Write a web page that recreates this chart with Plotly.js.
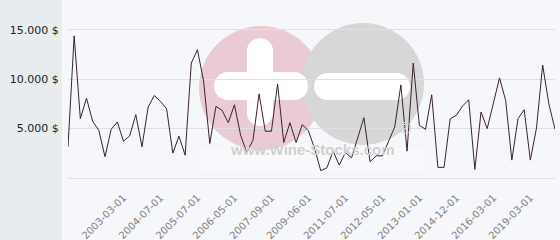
<!DOCTYPE html>
<html>
<head>
<meta charset="utf-8">
<script src="https://cdn.plot.ly/plotly-3.0.1.min.js"></script>
<style>html,body{margin:0;padding:0;background:#e8ecef;}#chart{width:560px;height:240px;}</style>
</head>
<body>
<div id="chart"></div>
<script>
// Price series (USD), one value per observation, in order
const prices = [
  3154, 14396, 6007, 8087, 5738, 4832, 2148, 4933, 5671, 3725,
  4262, 6409, 3154, 7181, 8356, 7752, 7013, 2517, 4228, 2315,
  11644, 12987, 9800, 3490, 7248, 6846, 5604, 7416, 4329, 2584,
  3826, 8523, 4732, 4732, 9530, 3591, 5604, 3591, 5403, 4780,
  2987, 738, 1040, 2718, 1309, 2584, 2047, 4161, 6107, 1644,
  2248, 2248, 3658, 5168, 9430, 2718, 11644, 5336, 4933, 8423,
  1074, 1074, 6007, 6342, 7282, 7919, 872, 6678, 5000, 7617,
  10134, 7852, 1812, 6007, 6913, 1812, 5067, 11443, 7517, 4933
];
// Labelled observations on the x axis
const tickIndex = [9, 15, 21, 27, 33, 39, 45, 51, 57, 63, 69, 75];
const tickLabels = ['2003-03-01', '2004-07-01', '2005-07-01', '2006-05-01', '2007-09-01', '2009-06-01',
                    '2011-07-01', '2012-05-01', '2013-01-01', '2014-12-01', '2016-03-01', '2019-03-01'];
const yTickValues = [5000, 10000, 15000];
const yTickLabels = ['5.000 $', '10.000 $', '15.000 $'];

const W = 560, H = 240, ML = 68, MR = 5, MT = 20, MB = 62;
const PW = W - ML - MR, PH = H - MT - MB;
const fx = p => (p - ML) / PW;
const fy = p => (H - MB - p) / PH;

function rect(x0, y0, x1, y1, color, extra) {
  return Object.assign({type: 'rect', xref: 'paper', yref: 'paper', layer: 'below',
    x0: fx(x0), x1: fx(x1), y0: fy(y1), y1: fy(y0), fillcolor: color, line: {width: 0}}, extra || {});
}
function circ(x0, y0, x1, y1, color) {
  return {type: 'circle', xref: 'paper', yref: 'paper', layer: 'below',
    x0: fx(x0), x1: fx(x1), y0: fy(y1), y1: fy(y0), fillcolor: color, line: {width: 0}};
}
const pink = '#eacbd4', grey = '#d7d7d7', white = '#ffffff';
const shapes = [
  rect(63, -5, 565, 245, '#f6f7fa', {line: {width: 1, color: '#ffffff'}}),
  rect(200, 148, 425, 172, 'rgba(255,255,255,0.3)'),
  circ(199, 26, 323, 150, pink),
  circ(302, 23, 424, 145, grey),
  // plus sign
  rect(247, 51, 273, 113, white),
  circ(247, 38, 273, 64, white),
  circ(247, 100, 273, 126, white),
  rect(228, 72, 294, 100, white),
  circ(214, 72, 242, 100, white),
  circ(280, 72, 308, 100, white),
  // minus sign
  rect(327, 73, 397, 100, white),
  circ(314, 73, 341, 100, white),
  circ(383, 73, 410, 100, white)
];

const trace = {
  x: prices.map((_, i) => i),
  y: prices,
  type: 'scatter',
  mode: 'lines',
  line: {color: '#3b2130', width: 1},
  hoverinfo: 'skip'
};

const layout = {
  width: W, height: H,
  margin: {l: ML, r: MR, t: MT, b: MB, pad: 0},
  paper_bgcolor: '#e8ecef',
  plot_bgcolor: 'rgba(0,0,0,0)',
  showlegend: false,
  shapes: shapes,
  annotations: [
    {xref: 'paper', yref: 'paper', x: fx(312), y: fy(160), text: '<b>www.Wine-Stocks.com</b>', showarrow: false,
     font: {family: 'Liberation Sans, Arial, sans-serif', size: 15, color: '#d0d0d0'}},
    {xref: 'paper', yref: 'paper', x: fx(414), y: fy(140), text: '®', showarrow: false,
     font: {family: 'Liberation Sans, Arial, sans-serif', size: 17, color: '#d4d4d4'}}
  ],
  xaxis: {
    range: [0, prices.length - 1],
    tickmode: 'array', tickvals: tickIndex, ticktext: tickLabels,
    tickangle: -45,
    tickfont: {family: 'DejaVu Sans, sans-serif', size: 10, color: '#808080'},
    showgrid: false, zeroline: false, showline: false,
    ticks: 'outside', ticklen: 9, tickcolor: 'rgba(0,0,0,0)'
  },
  yaxis: {
    range: [0, 16000],
    tickmode: 'array', tickvals: yTickValues, ticktext: yTickLabels,
    tickfont: {family: 'DejaVu Sans, sans-serif', size: 11, color: '#222222'},
    showgrid: true, gridcolor: '#e0e0e0', gridwidth: 1,
    zeroline: true, zerolinecolor: '#e0e0e0', zerolinewidth: 1,
    showline: false,
    ticks: 'outside', ticklen: 6, tickcolor: 'rgba(0,0,0,0)'
  }
};

Plotly.newPlot('chart', [trace], layout, {staticPlot: true, displayModeBar: false});
</script>
</body>
</html>
